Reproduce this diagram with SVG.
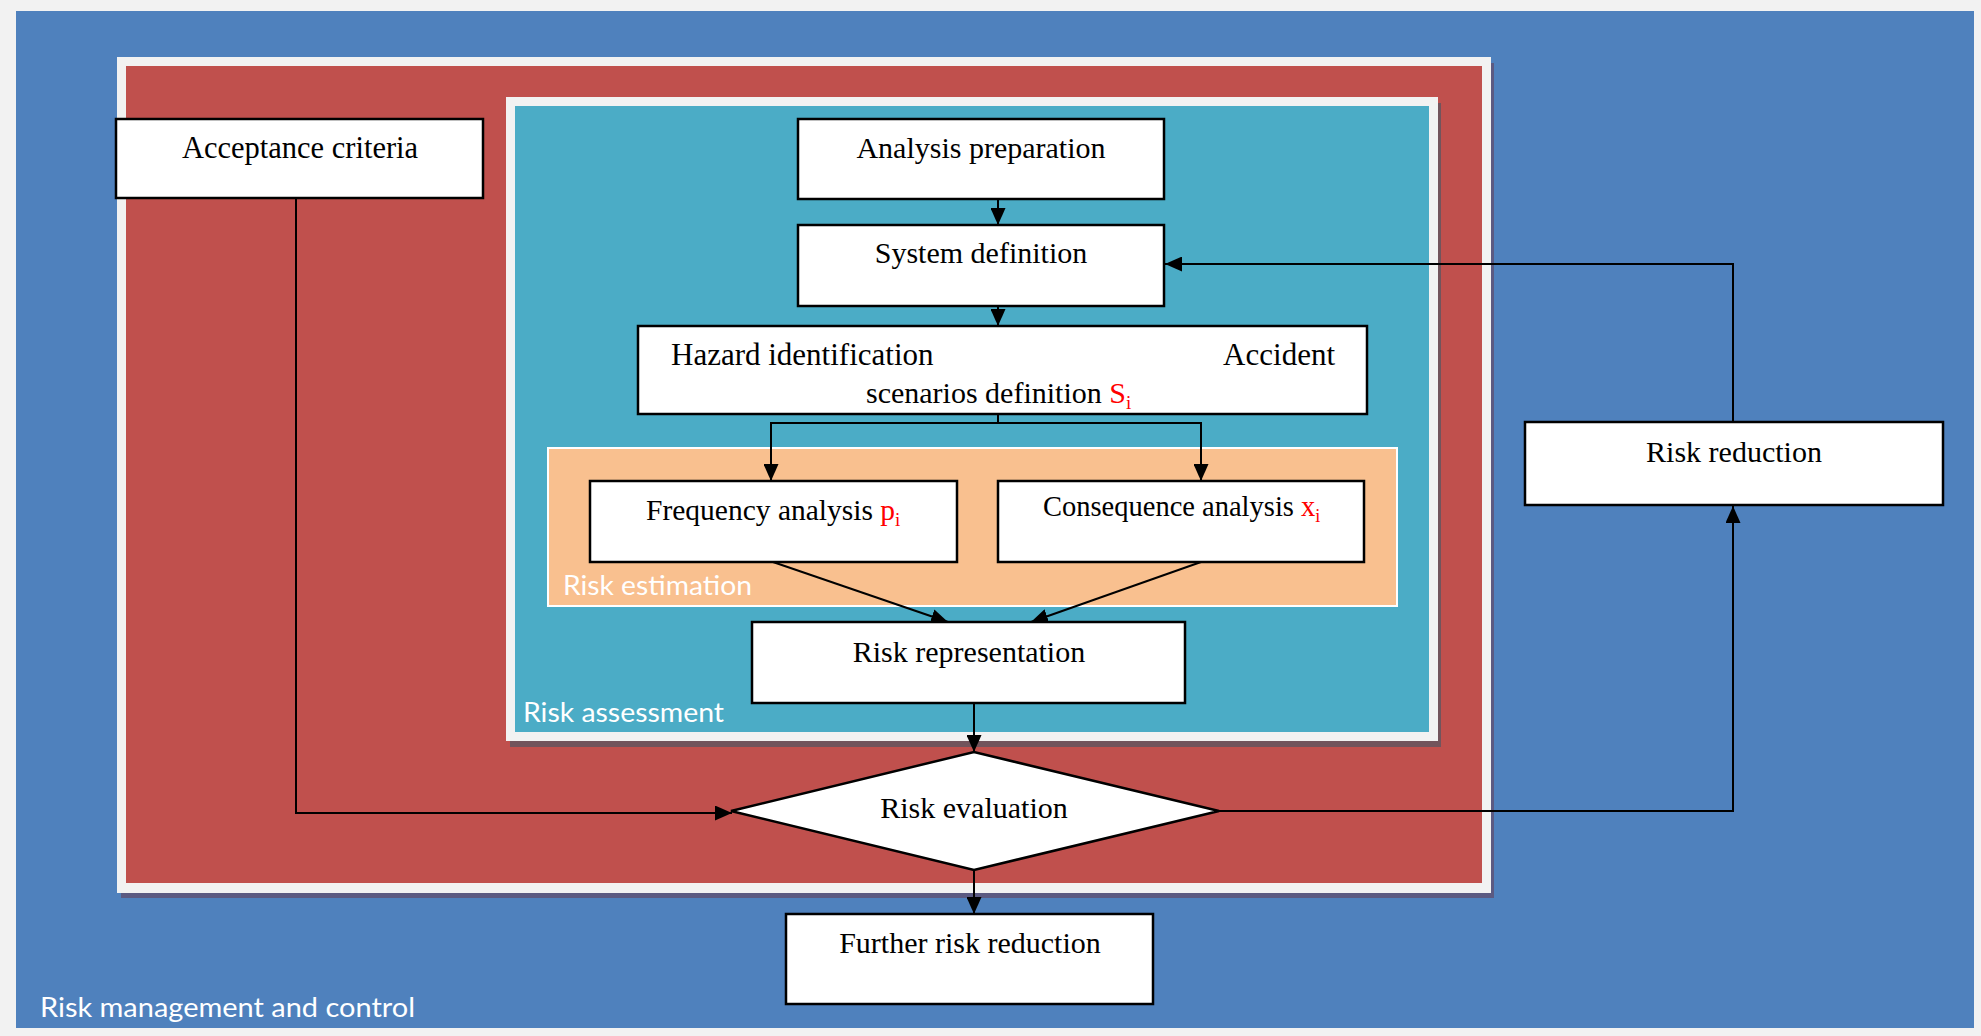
<svg xmlns="http://www.w3.org/2000/svg" width="1981" height="1036" viewBox="0 0 1981 1036">
<style>
.box{fill:#fff;stroke:#000;stroke-width:2.5}
.t{font-family:"Liberation Serif","Times New Roman",serif;font-size:30px;fill:#000}
.c{text-anchor:middle}
.red{fill:#ff0000}
.lbl{font-family:Lato,"Open Sans",sans-serif;font-size:27px;fill:#fff}
.con{fill:none;stroke:#000;stroke-width:2}
.arr{marker-end:url(#ah)}
</style>
<defs>
<marker id="ah" markerUnits="userSpaceOnUse" markerWidth="17" markerHeight="15" refX="17" refY="7.5" orient="auto">
<path d="M0,0 L17,7.5 L0,15 z" fill="#000"/>
</marker>
</defs>
<rect x="0" y="0" width="1981" height="1036" fill="#f2f2f2"/>
<g id="risk-management-panel">
<rect x="16" y="11" width="1958" height="1017" fill="#4f81bd"/>
<text class="lbl" x="40" y="1017" textLength="375" lengthAdjust="spacingAndGlyphs">Risk management and control</text>
</g>
<g id="risk-analysis-panel">
<rect x="121" y="63" width="1373" height="835" fill="#5b5a82"/>
<rect x="117" y="57" width="1374" height="836" fill="#f2f2f2"/>
<rect x="126" y="66" width="1356" height="817" fill="#c0504d"/>
</g>
<g id="risk-assessment-panel">
<rect x="510" y="103" width="931" height="644" fill="#72545c"/>
<rect x="506" y="97" width="932" height="644" fill="#f2f2f2"/>
<rect x="515" y="106" width="914" height="626" fill="#4bacc6"/>
<text class="lbl" x="523" y="722" textLength="201" lengthAdjust="spacingAndGlyphs">Risk assessment</text>
</g>
<g id="risk-estimation-panel">
<rect x="548" y="448" width="849" height="158" fill="#f9c08f" stroke="#fff" stroke-width="2"/>
<text class="lbl" x="563" y="595" textLength="189" lengthAdjust="spacingAndGlyphs">Risk estimation</text>
</g>
<g id="connectors">
<path class="con arr" d="M998,199 V225"/>
<path class="con arr" d="M998,306 V326"/>
<path class="con" d="M998,414 V423"/>
<path class="con arr" d="M998,423 H771 V481"/>
<path class="con arr" d="M998,423 H1201 V481"/>
<path class="con arr" d="M773,562 L948,622"/>
<path class="con arr" d="M1201,562 L1031,622"/>
<path class="con arr" d="M974,703 V752"/>
<path class="con arr" d="M974,870 V914"/>
<path class="con arr" d="M296,198 V813 H732"/>
<path class="con arr" d="M1219,811 H1733 V506"/>
<path class="con arr" d="M1733,422 V264 H1165"/>
</g>
<g id="acceptance-criteria">
<rect class="box" x="116" y="119" width="367" height="79"/>
<text class="t c" x="300" y="158" style="font-size:30.5px">Acceptance criteria</text>
</g>
<g id="analysis-preparation">
<rect class="box" x="798" y="119" width="366" height="80"/>
<text class="t c" x="981" y="158">Analysis preparation</text>
</g>
<g id="system-definition">
<rect class="box" x="798" y="225" width="366" height="81"/>
<text class="t c" x="981" y="263">System definition</text>
</g>
<g id="hazard-identification">
<rect class="box" x="638" y="326" width="729" height="88"/>
<text class="t" x="671" y="365" style="font-size:31px">Hazard identification</text>
<text class="t" x="1335" y="365" text-anchor="end" style="font-size:31px">Accident</text>
<text class="t" x="866" y="403">scenarios definition <tspan class="red">S</tspan><tspan class="red" font-size="19" dy="6">i</tspan></text>
</g>
<g id="frequency-analysis">
<rect class="box" x="590" y="481" width="367" height="81"/>
<text class="t" x="646" y="520" style="font-size:29.5px">Frequency analysis <tspan class="red">p</tspan><tspan class="red" font-size="19" dy="6">i</tspan></text>
</g>
<g id="consequence-analysis">
<rect class="box" x="998" y="481" width="366" height="81"/>
<text class="t" x="1043" y="516" style="font-size:28.5px">Consequence analysis <tspan class="red">x</tspan><tspan class="red" font-size="18" dy="6">i</tspan></text>
</g>
<g id="risk-representation">
<rect class="box" x="752" y="622" width="433" height="81"/>
<text class="t c" x="969" y="662">Risk representation</text>
</g>
<g id="risk-evaluation">
<path class="box" d="M731,811 L974,752 L1219,811 L974,870 Z"/>
<text class="t c" x="974" y="818">Risk evaluation</text>
</g>
<g id="further-risk-reduction">
<rect class="box" x="786" y="914" width="367" height="90"/>
<text class="t c" x="970" y="953">Further risk reduction</text>
</g>
<g id="risk-reduction">
<rect class="box" x="1525" y="422" width="418" height="83"/>
<text class="t c" x="1734" y="462">Risk reduction</text>
</g>
</svg>
